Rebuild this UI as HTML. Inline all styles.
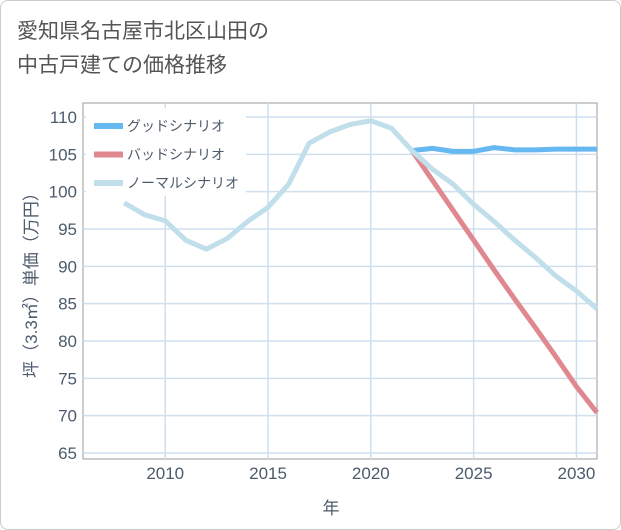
<!DOCTYPE html>
<html><head><meta charset="utf-8"><style>
body{margin:0;background:#fff;font-family:"Liberation Sans","Noto Sans CJK JP",sans-serif;}
#wrap{position:relative;width:619px;height:528px;border:1px solid #ccc;border-radius:8px;overflow:hidden;}
#title{position:absolute;left:16px;top:14px;font-size:21px;line-height:34px;color:#555;}
svg text{font-family:"Liberation Sans","Noto Sans CJK JP",sans-serif;}
</style></head><body>
<div id="wrap">
<div id="title">愛知県名古屋市北区山田の<br>中古戸建ての価格推移</div>
<svg id="c" width="621" height="530" style="position:absolute;left:-1px;top:-1px"></svg>
</div>
<script>
const years=[2008,2009,2010,2011,2012,2013,2014,2015,2016,2017,2018,2019,2020,2021,2022,2023,2024,2025,2026,2027,2028,2029,2030,2031];
const normal=[98.5,96.9,96.1,93.5,92.3,93.7,96,97.9,101,106.5,108,109,109.5,108.5,105.5,103,101,98.3,96,93.5,91.2,88.7,86.7,84.3];
const goodYears=[2022,2023,2024,2025,2026,2027,2028,2029,2030,2031];
const good=[105.5,105.8,105.4,105.4,105.9,105.6,105.6,105.7,105.7,105.7];
const bad=[105.5,101.5,97.5,93.5,89.5,85.6,81.8,77.9,73.9,70.4];
const yTicks=[65,70,75,80,85,90,95,100,105,110];
const xTicks=[2010,2015,2020,2025,2030];
const legendLabels=["グッドシナリオ","バッドシナリオ","ノーマルシナリオ"];
const NS="http://www.w3.org/2000/svg",svg=document.getElementById('c');
const L=83,R=597,T=103,B=459,TXT='#4c5b6b';
const x=v=>L+(v-2006)*(R-L)/25;
const y=v=>117+(110-v)*(453-117)/45;
function mk(t,a,p){const e=document.createElementNS(NS,t);for(const k in a)e.setAttribute(k,a[k]);(p||svg).appendChild(e);return e;}
const frame=mk('rect',{x:L,y:T,width:R-L,height:B-T,fill:'none',stroke:'#999','stroke-width':1});


for(const t of yTicks){
 const g=mk('line',{x1:L,x2:R,y1:y(t),y2:y(t),stroke:'#cfdfee','stroke-width':1.5});
 
 
 const l=mk('text',{x:L-6,y:y(t)+6,'text-anchor':'end','font-size':17,fill:TXT});l.textContent=t;
 
 
}
for(const t of xTicks){
 const g=mk('line',{x1:x(t),x2:x(t),y1:T,y2:B,stroke:'#cfdfee','stroke-width':1.5});
 
 
 const l=mk('text',{x:x(t),y:B+20,'text-anchor':'middle','font-size':17,fill:TXT});l.textContent=t;
 
 
}
function line(xs,ys,col,name){
 const p=mk('polyline',{points:xs.map((v,i)=>x(v)+','+y(ys[i])).join(' '),fill:'none',stroke:col,'stroke-width':5,'stroke-linejoin':'round'});
 
 
}
line(goodYears,bad,'#e08890','bad-scenario-line');
line(goodYears,good,'#66b8f0','good-scenario-line');
line(years,normal,'#c0dfeb','normal-scenario-line');
const lb=mk('rect',{x:86,y:108,width:160,height:88,fill:'#fff'});


const cols=['#66b8f0','#e08890','#c0dfeb'];
legendLabels.forEach((s,i)=>{
 const yy=126+i*28.5;
 const r=mk('rect',{x:94,y:yy-3,width:29,height:6,fill:cols[i]});
 
 
 const t=mk('text',{x:127,y:yy+5,'font-size':14,fill:TXT});t.textContent=s;
 
 
});
const yt=mk('text',{transform:'translate(37,281) rotate(-90)','text-anchor':'middle','font-size':17,fill:TXT});yt.textContent='坪（3.3㎡）単価（万円）';


const xt=mk('text',{x:331,y:514,'text-anchor':'middle','font-size':17,fill:TXT});xt.textContent='年';


</script>
</body></html>
